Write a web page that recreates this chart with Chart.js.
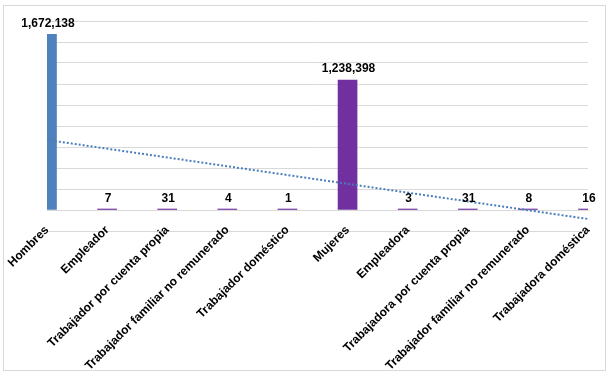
<!DOCTYPE html>
<html>
<head>
<meta charset="utf-8">
<title>Hombres y Mujeres por categoría</title>
<script src="https://cdn.jsdelivr.net/npm/chart.js@4.4.1/dist/chart.umd.min.js"></script>
<style>
  html, body { margin: 0; padding: 0; background: #fff; }
</style>
</head>
<body>
<canvas id="my-chart" width="611" height="375"></canvas>
<script>
'use strict';

// ***** DATA *****

let categories = [
  'Hombres',
  'Empleador',
  'Trabajador por cuenta propia',
  'Trabajador familiar no remunerado',
  'Trabajador doméstico',
  'Mujeres',
  'Empleadora',
  'Trabajadora por cuenta propia',
  'Trabajador familiar no remunerado',
  'Trabajadora doméstica'
];
let values = [1672138, 7, 31, 4, 1, 1238398, 3, 31, 8, 16];

// dotted trend line at the first and last category
let trendEnds = [667700, -85600];

// value axis (its tick labels are hidden in the picture)
let yMin = -200000;
let yMax = 1800000;
let yStep = 200000;

// ***** STYLE *****

let fontFamily = '"Liberation Sans", Arial, sans-serif';
let blue = '#4f81bd';
let purple = '#7030a0';
let gridGray = '#d9d9d9';

let barColors = values.map((v, i) => i === 0 ? blue : purple);

let trendData = categories.map((c, i) => {
  if(i === 0) return trendEnds[0];
  if(i === categories.length - 1) return trendEnds[1];
  return null;
});

// ***** PLUGINS *****

let chartFrame = {
  id: 'chartFrame',
  beforeDraw(chart){
    let c = chart.ctx;
    c.save();
    c.fillStyle = '#fff';
    c.fillRect(0, 0, chart.width, chart.height);
    c.strokeStyle = gridGray;
    c.lineWidth = 1;
    c.strokeRect(3.5, 5.5, 602, 365);
    c.restore();
  }
};

let valueLabels = {
  id: 'valueLabels',
  afterDatasetsDraw(chart){
    let meta = chart.getDatasetMeta(1);
    let c = chart.ctx;
    c.save();
    c.font = 'bold 12px ' + fontFamily;
    c.fillStyle = '#000';
    c.textAlign = 'center';
    c.textBaseline = 'alphabetic';
    for(let i = 0; i < meta.data.length; i++){
      let bar = meta.data[i];
      c.fillText(values[i].toLocaleString('en-US'), bar.x + 1, bar.y - 7.5);
    }
    c.restore();
  }
};

// ***** CHART *****

let ctx = document.getElementById('my-chart').getContext('2d');

new Chart(ctx, {
  type: 'bar',
  data: {
    labels: categories,
    datasets: [{
      type: 'line',
      label: 'Tendencia',
      data: trendData,
      spanGaps: true,
      borderColor: '#4a7ebb',
      borderWidth: 2,
      borderDash: [2, 2],
      pointRadius: 0,
      fill: false
    },
    {
      label: 'Personas',
      data: values,
      backgroundColor: barColors,
      barThickness: 19,
      minBarLength: 1,
      clip: 0
    }]
  },
  options: {
    responsive: false,
    animation: false,
    layout: {
      padding: { left: 47, right: 23, top: 21, bottom: 144 }
    },
    plugins: {
      legend: { display: false },
      tooltip: { enabled: false }
    },
    scales: {
      x: {
        position: { y: 0 },
        offset: false,
        grid: { display: false },
        border: { display: true, color: gridGray, width: 1 },
        ticks: {
          autoSkip: false,
          minRotation: 45,
          maxRotation: 45,
          padding: 5,
          color: '#000',
          font: { family: fontFamily, size: 12, weight: 'bold' }
        }
      },
      y: {
        min: yMin,
        max: yMax,
        grid: { color: gridGray, drawTicks: false },
        border: { display: false },
        ticks: { display: false, stepSize: yStep }
      }
    }
  },
  plugins: [chartFrame, valueLabels]
});
</script>
</body>
</html>
